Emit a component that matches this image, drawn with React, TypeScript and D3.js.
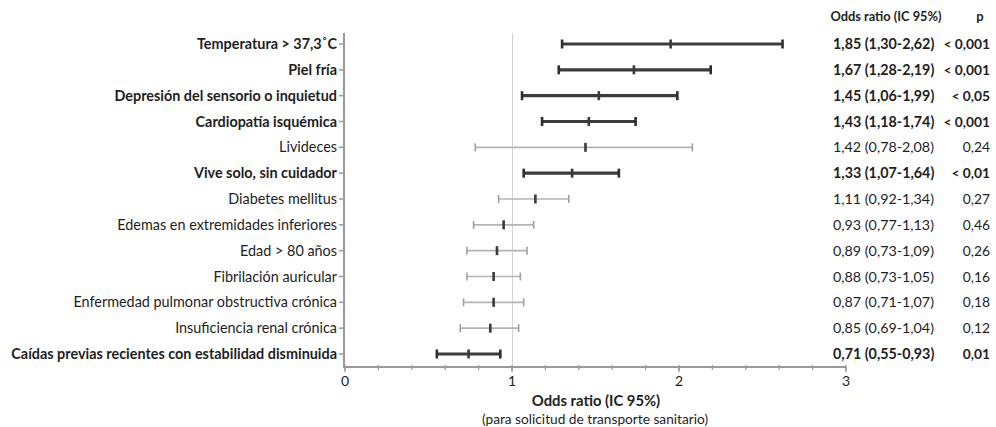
import React from "react";
import * as d3 from "d3";

const labels = [
  "Temperatura > 37,3˚C",
  "Piel fría",
  "Depresión del sensorio o inquietud",
  "Cardiopatía isquémica",
  "Livideces",
  "Vive solo, sin cuidador",
  "Diabetes mellitus",
  "Edemas en extremidades inferiores",
  "Edad > 80 años",
  "Fibrilación auricular",
  "Enfermedad pulmonar obstructiva crónica",
  "Insuficiencia renal crónica",
  "Caídas previas recientes con estabilidad disminuida",
];
const significant = [true, true, true, true, false, true, false, false, false, false, false, false, true];
const lower = [1.3, 1.28, 1.06, 1.18, 0.78, 1.07, 0.92, 0.77, 0.73, 0.73, 0.71, 0.69, 0.55];
const upper = [2.62, 2.19, 1.99, 1.74, 2.08, 1.64, 1.34, 1.13, 1.09, 1.05, 1.07, 1.04, 0.93];
// centre marker positions as drawn in the picture
const centre = [1.95, 1.73, 1.52, 1.46, 1.44, 1.36, 1.14, 0.95, 0.91, 0.89, 0.89, 0.87, 0.74];
const orText = [
  "1,85 (1,30-2,62)",
  "1,67 (1,28-2,19)",
  "1,45 (1,06-1,99)",
  "1,43 (1,18-1,74)",
  "1,42 (0,78-2,08)",
  "1,33 (1,07-1,64)",
  "1,11 (0,92-1,34)",
  "0,93 (0,77-1,13)",
  "0,89 (0,73-1,09)",
  "0,88 (0,73-1,05)",
  "0,87 (0,71-1,07)",
  "0,85 (0,69-1,04)",
  "0,71 (0,55-0,93)",
];
const pText = ["< 0,001", "< 0,001", "< 0,05", "< 0,001", "0,24", "< 0,01", "0,27", "0,46", "0,26", "0,16", "0,18", "0,12", "0,01"];
const xTicks = [0, 1, 2, 3];

const FONT = "Lato, 'Open Sans', sans-serif";

export default function App() {
  const W = 996, H = 427;
  const x = d3.scaleLinear().domain([0, 3]).range([345, 846]);
  const y = d3.scalePoint<number>().domain(d3.range(labels.length)).range([44, 354]);
  const axisY = 367;
  const minor = d3.range(0, 3.0001, 0.2);
  const text = "#1e1e1e";

  return (
    <svg width={W} height={H} style={{ position: "absolute", left: 0, top: 0, fontFamily: FONT }}>
      <rect width={W} height={H} fill="#fff" />
      {/* gridline at 1 */}
      <line x1={x(1) + 0.5} x2={x(1) + 0.5} y1={33} y2={axisY} stroke="#d4d4d4" strokeWidth={1} />
      {/* y axis */}
      <line x1={x(0) - 1} x2={x(0) - 1} y1={33} y2={axisY} stroke="#9a9a9a" strokeWidth={2} />
      {labels.map((_, i) => (
        <line key={"yt" + i} x1={x(0) - 6} x2={x(0) - 1} y1={y(i)!} y2={y(i)!} stroke="#9a9a9a" strokeWidth={1.5} />
      ))}
      {/* x axis */}
      <line x1={x(0) - 2} x2={x(3)} y1={axisY} y2={axisY} stroke="#9a9a9a" strokeWidth={2} />
      {minor.map((v, i) => (
        <line key={"mt" + i} x1={x(v)} x2={x(v)} y1={axisY - 2} y2={axisY + 3} stroke="#9a9a9a" strokeWidth={1.2} />
      ))}
      {xTicks.map((v) => (
        <g key={"xt" + v}>
          <line x1={x(v)} x2={x(v)} y1={axisY} y2={axisY + 5} stroke="#9a9a9a" strokeWidth={1.5} />
          <text x={x(v)} y={axisY + 19} textAnchor="middle" fontSize={14} fill={text}>{v}</text>
        </g>
      ))}
      <text x={596} y={406} textAnchor="middle" fontSize={14.8} fontWeight="bold" fill={text}>Odds ratio (IC 95%)</text>
      <text x={595} y={424} textAnchor="middle" fontSize={13.7} fill={text}>(para solicitud de transporte sanitario)</text>

      {/* header */}
      <text x={886} y={21} textAnchor="middle" fontSize={12.8} fontWeight="bold" fill={text}>Odds ratio (IC 95%)</text>
      <text x={980} y={21} textAnchor="middle" fontSize={13} fontWeight="bold" fill={text}>p</text>

      {labels.map((lab, i) => {
        const yy = y(i)!;
        const sig = significant[i];
        const col = sig ? "#3c3c3c" : "#b4b4b4";
        const sw = sig ? 3.2 : 1.6;
        const capH = sig ? 9 : 8;
        return (
          <g key={"r" + i}>
            <text x={337} y={yy + 5} textAnchor="end" fontSize={14.4} fontWeight={sig ? "bold" : "normal"} fill={text}>{lab}</text>
            <line x1={x(lower[i])} x2={x(upper[i])} y1={yy} y2={yy} stroke={col} strokeWidth={sw} />
            <line x1={x(lower[i])} x2={x(lower[i])} y1={yy - capH / 2} y2={yy + capH / 2} stroke={sig ? "#2e2e2e" : "#a0a0a0"} strokeWidth={sig ? 2.6 : 1.6} />
            <line x1={x(upper[i])} x2={x(upper[i])} y1={yy - capH / 2} y2={yy + capH / 2} stroke={sig ? "#2e2e2e" : "#a0a0a0"} strokeWidth={sig ? 2.6 : 1.6} />
            <line x1={x(centre[i])} x2={x(centre[i])} y1={yy - 4.5} y2={yy + 4.5} stroke="#3a3a3a" strokeWidth={2.6} />
            <text x={833} y={yy + 5} fontSize={14.3} fontWeight={sig ? "bold" : "normal"} fill={text}>{orText[i]}</text>
            <text x={990} y={yy + 5} textAnchor="end" fontSize={13.8} fontWeight={sig ? "bold" : "normal"} fill={text}>{pText[i]}</text>
          </g>
        );
      })}
    </svg>
  );
}
